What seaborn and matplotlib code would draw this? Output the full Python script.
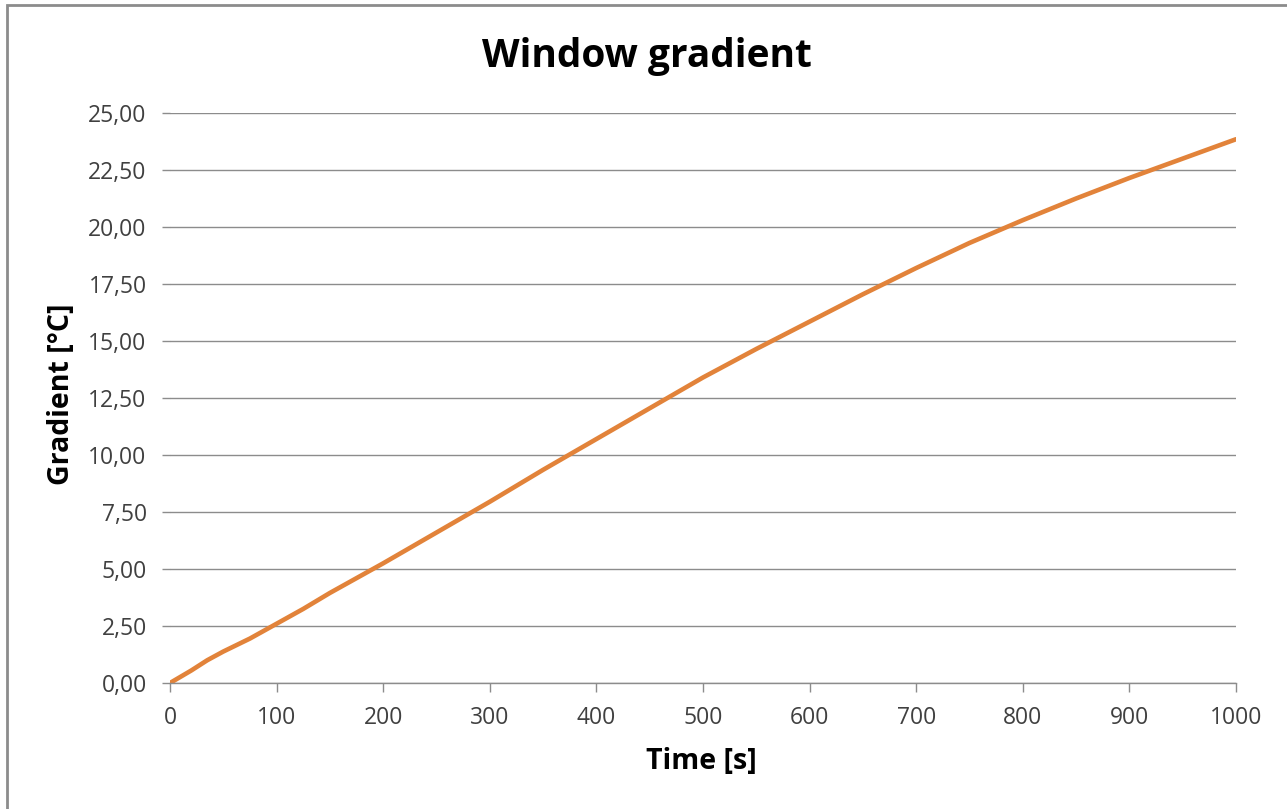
import matplotlib
matplotlib.use("Agg")
import matplotlib.pyplot as plt
import matplotlib.patches as mpatches
from matplotlib.ticker import FuncFormatter, MultipleLocator
import seaborn as sns
import pandas as pd

time_s = [0, 20, 35, 50, 75, 100, 125, 150, 175, 200, 250, 300, 350, 400, 450,
          500, 550, 600, 650, 700, 750, 800, 850, 900, 950, 1000]
gradient_c = [0.0, 0.55, 1.0, 1.38, 1.95, 2.6, 3.25, 3.95, 4.6, 5.25, 6.6, 7.95,
              9.35, 10.7, 12.05, 13.4, 14.65, 15.85, 17.05, 18.2, 19.3, 20.3,
              21.25, 22.15, 23.0, 23.85]

title = "Window gradient"
xlabel = "Time [s]"
ylabel = "Gradient [°C]"

df = pd.DataFrame({"time": time_s, "gradient": gradient_c})

sns.set_theme(style="white")
plt.rcParams["font.family"] = ["Open Sans", "DejaVu Sans"]

W, H = 1287, 809
fig = plt.figure(figsize=(W / 100, H / 100), dpi=100)
ax = fig.add_axes([170 / W, 1 - 683 / H, (1236 - 170) / W, (683 - 113) / H])

sns.lineplot(data=df, x="time", y="gradient", ax=ax, color="#E2833A", linewidth=3.3)

ax.set_xlim(0, 1000)
ax.set_ylim(0, 25)
ax.xaxis.set_major_locator(MultipleLocator(100))
ax.yaxis.set_major_locator(MultipleLocator(2.5))
ax.yaxis.set_major_formatter(FuncFormatter(lambda v, p: f"{v:.2f}".replace(".", ",")))

ax.grid(axis="y", color="#8c8c8c", linewidth=1.0)
ax.set_axisbelow(True)
for s in ["top", "right", "left"]:
    ax.spines[s].set_visible(False)
ax.spines["bottom"].set_color("#8c8c8c")
ax.spines["bottom"].set_linewidth(1.0)

ax.tick_params(axis="x", direction="out", length=6.5, width=1, color="#8c8c8c",
               labelsize=16.5, labelcolor="#404040", pad=10, bottom=True)
ax.tick_params(axis="y", direction="out", length=5.8, width=1, color="#8c8c8c",
               labelsize=16.5, labelcolor="#404040", pad=11, left=True)

ax.set_xlabel(xlabel, fontsize=20.5, fontweight="bold", color="black")
ax.set_ylabel(ylabel, fontsize=20.5, fontweight="bold", color="black")
ax.xaxis.label.set_va("center")
ax.yaxis.label.set_va("center")
ax.xaxis.set_label_coords((701 - 170) / 1066, (683 - 762) / 570)
ax.yaxis.set_label_coords((62 - 170) / 1066, (683 - 394) / 570)

fig.text((480 + 813) / 2 / W, 1 - 56 / H, title, ha="center", va="center",
         fontsize=28, fontweight="bold", color="black")

border = mpatches.Rectangle((7 / W, -0.05), 1.1, 1 - 5 / H + 0.05,
                            transform=fig.transFigure, fill=False,
                            edgecolor="#8c8c8c", linewidth=2.0)
fig.patches.append(border)

fig.savefig("out.png", dpi=100)
